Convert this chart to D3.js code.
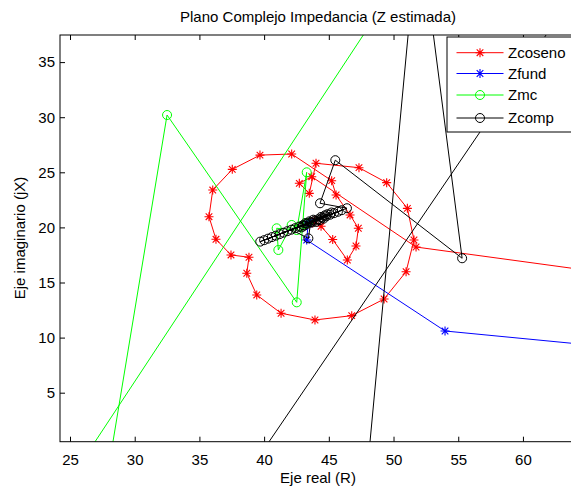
<!DOCTYPE html>
<html><head><meta charset="utf-8">
<script src="https://cdn.jsdelivr.net/npm/d3@7"></script>
<style>body{margin:0;background:#fff}svg{display:block}text{font-family:"Liberation Sans",Arial,sans-serif}</style>
</head><body><svg id="c" width="571" height="486"></svg>
<script>
const xTicks=[25,30,35,40,45,50,55,60];
const yTicks=[5,10,15,20,25,30,35];
const seriesNames=["Zcoseno","Zfund","Zmc","Zcomp"];
const seriesColors=["#ff0000","#0000ff","#00ff00","#000000"];
const seriesMarkers=["star","star","circle","circle"];
const zcosenoX=[70.0,51.74,43.68,42.72,43.49,44.01,47.33,49.47,51.07,51.58,50.97,49.27,46.77,43.93,41.31,39.43,38.66,38.83,37.44,36.28,35.74,36.03,37.54,39.68,42.13,45.22,45.56,46.64,47.28,47.10,46.43,45.3,44.4,43.9,43.5,43.7,43.6];
const zcosenoY=[15.3,18.22,24.60,24.0,23.09,25.82,25.42,24.06,21.73,18.86,15.98,13.50,11.99,11.60,12.21,13.87,15.84,17.29,17.50,18.92,20.97,23.39,25.27,26.56,26.66,24.24,22.94,21.13,19.92,18.31,17.04,18.9,20.1,20.6,20.3,20.5,20.4];
const zfundX=[69.8,53.98,43.29,43.4,43.5,43.45];
const zfundY=[8.8,10.6,18.86,20.3,20.5,20.45];
const zmcX=[51.9,24.94,27.82,32.50,42.52,43.29,42.52,40.97,41.1,42.13,42.8,43.2,43.4];
const zmcY=[45.0,-3.0,-3.0,30.2,13.2,25.0,19.76,19.92,17.95,20.22,20.1,20.3,20.4];
const zcompX=[66.16,38.32,47.90,51.95,55.3,45.5,44.32,46.4,39.7,46.0,40.0,45.7,40.3,45.4,40.6,45.1,40.9,44.8,41.2,44.5,41.5,44.2,41.8,43.9,42.1,43.42,43.6,42.4,43.3,42.7,44.9,43.0,44.6,43.2,44.3,43.5,44.0,43.8,45.2,42.9,44.7,43.1,44.4,43.7];
const zcompY=[45.0,-3.0,-3.0,47.8,17.2,26.1,22.19,21.74,18.71,21.56,18.84,21.42,18.98,21.29,19.12,21.15,19.25,21.01,19.39,20.88,19.52,20.74,19.66,20.61,19.79,19.01,20.47,19.93,20.34,20.07,21.2,20.2,20.8,20.4,20.65,20.55,20.5,20.7,21.35,20.0,21.1,20.15,20.95,20.45];

const svg=d3.select("#c");
const L=60,T=35,R=576,B=441.7;
const x=d3.scaleLinear().domain([24.227,64.10]).range([L,R]);
const y=d3.scaleLinear().domain([0.553,37.46]).range([B,T]);
const FS=15;

svg.append("text").attr("x",318).attr("y",22).attr("text-anchor","middle").attr("font-size",FS).text("Plano Complejo Impedancia (Z estimada)");
svg.append("text").attr("x",318).attr("y",483).attr("text-anchor","middle").attr("font-size",FS).text("Eje real (R)");
svg.append("text").attr("transform","translate(25,238) rotate(-90)").attr("text-anchor","middle").attr("font-size",FS).text("Eje imaginario (jX)");

svg.append("defs").append("clipPath").attr("id","clip").append("rect").attr("x",L).attr("y",T).attr("width",R-L).attr("height",B-T);

function styleAxis(g){g.select(".domain").remove();g.selectAll("line").attr("stroke","#000");g.selectAll("text").attr("font-size",FS).attr("fill","#000").attr("font-family","Liberation Sans, Arial, sans-serif");}
svg.append("g").attr("transform",`translate(0,${B})`).call(d3.axisBottom(x).tickValues(xTicks).tickSizeInner(-5).tickSizeOuter(0).tickPadding(13)).call(styleAxis);
svg.append("g").attr("transform",`translate(0,${T})`).call(d3.axisTop(x).tickValues(xTicks).tickSizeInner(-5).tickSizeOuter(0).tickFormat("")).call(styleAxis);
svg.append("g").attr("transform",`translate(${L},0)`).call(d3.axisLeft(y).tickValues(yTicks).tickSizeInner(-5).tickSizeOuter(0).tickPadding(5)).call(styleAxis);
svg.append("g").attr("transform",`translate(${R},0)`).call(d3.axisRight(y).tickValues(yTicks).tickSizeInner(-5).tickSizeOuter(0).tickFormat("")).call(styleAxis);

const plot=svg.append("g").attr("clip-path","url(#clip)");
const line=d3.line().x(d=>x(d[0])).y(d=>y(d[1]));
function drawMarker(g,type,cx,cy,color){
  if(type==="star"){
    const s=4.5,d=3.3;
    g.append("path").attr("d",`M${cx-s},${cy}L${cx+s},${cy}M${cx},${cy-s}L${cx},${cy+s}M${cx-d},${cy-d}L${cx+d},${cy+d}M${cx-d},${cy+d}L${cx+d},${cy-d}`).attr("stroke",color).attr("stroke-width",1.1).attr("fill","none");
  } else {
    g.append("circle").attr("cx",cx).attr("cy",cy).attr("r",4.5).attr("stroke",color).attr("stroke-width",1).attr("fill","none");
  }
}
const allX=[zcosenoX,zfundX,zmcX,zcompX], allY=[zcosenoY,zfundY,zmcY,zcompY];
allX.forEach((xs,i)=>{
  const pts=xs.map((v,j)=>[v,allY[i][j]]);
  plot.append("path").datum(pts).attr("d",line).attr("fill","none").attr("stroke",seriesColors[i]).attr("stroke-width",1);
  pts.forEach(p=>drawMarker(plot,seriesMarkers[i],x(p[0]),y(p[1]),seriesColors[i]));
});
svg.append("rect").attr("x",L).attr("y",T).attr("width",R-L).attr("height",B-T).attr("fill","none").attr("stroke","#000").attr("stroke-width",1);

// legend
const lg=svg.append("g");
lg.append("rect").attr("x",447).attr("y",37).attr("width",140).attr("height",95).attr("fill","#fff").attr("stroke","#000").attr("stroke-width",1);
const rowY=[52.7,73.5,95,118];
seriesNames.forEach((n,i)=>{
  lg.append("line").attr("x1",456.5).attr("x2",503.5).attr("y1",rowY[i]).attr("y2",rowY[i]).attr("stroke",seriesColors[i]).attr("stroke-width",1);
  drawMarker(lg,seriesMarkers[i],480,rowY[i],seriesColors[i]);
  lg.append("text").attr("x",508).attr("y",rowY[i]).attr("dy","0.36em").attr("font-size",FS).text(n);
});
</script></body></html>
